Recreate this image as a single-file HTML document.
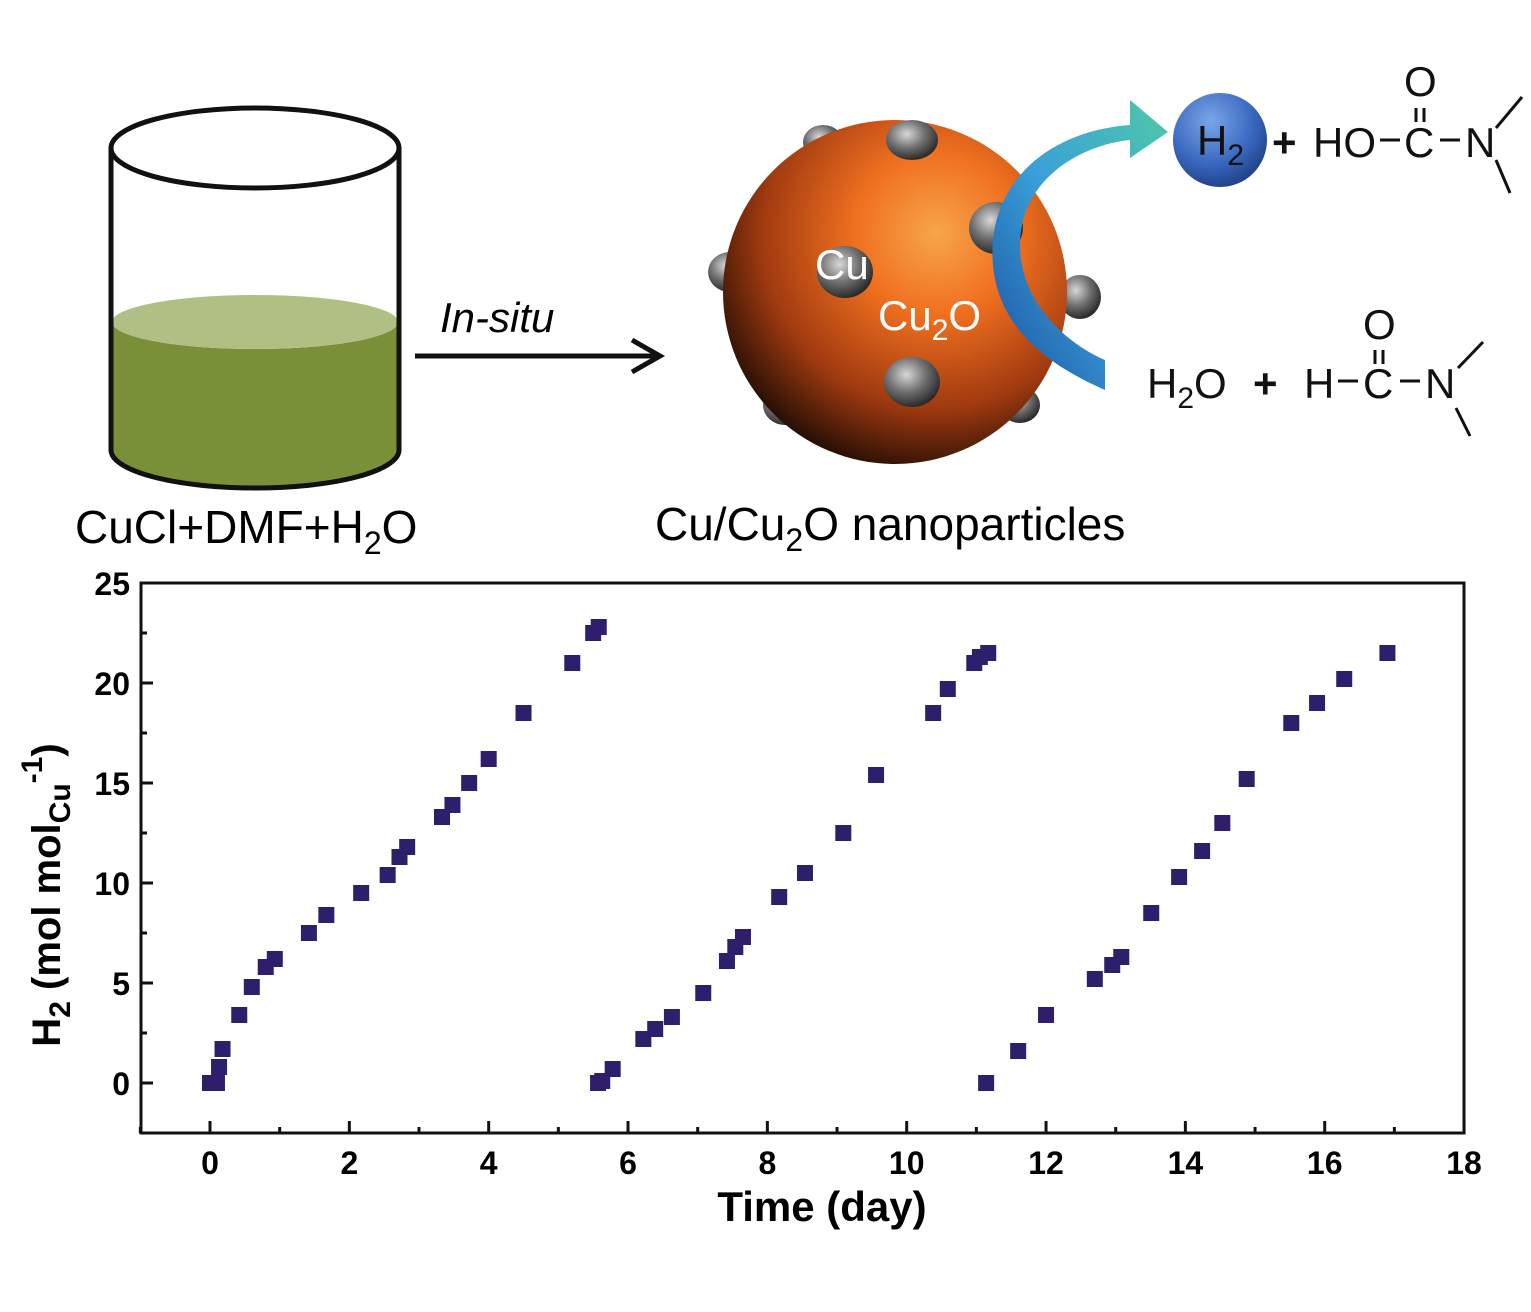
<!DOCTYPE html>
<html><head><meta charset="utf-8"><style>
body{margin:0;background:#fff;}
svg{display:block;font-family:"Liberation Sans",sans-serif;}
</style></head><body>
<svg width="1531" height="1312" viewBox="0 0 1531 1312">
<defs>
<radialGradient id="sph" cx="0.62" cy="0.33" r="0.78">
<stop offset="0" stop-color="#f7a54a"/><stop offset="0.3" stop-color="#f07020"/><stop offset="0.65" stop-color="#a03a10"/><stop offset="0.9" stop-color="#2a1005"/><stop offset="1" stop-color="#100500"/>
</radialGradient>
<radialGradient id="bump" cx="0.4" cy="0.35" r="0.7"><stop offset="0" stop-color="#d8d8d8"/><stop offset="0.5" stop-color="#707070"/><stop offset="1" stop-color="#202020"/></radialGradient>
<radialGradient id="h2b" cx="0.4" cy="0.3" r="0.75"><stop offset="0" stop-color="#7aa6e8"/><stop offset="0.6" stop-color="#3a68c0"/><stop offset="1" stop-color="#1d3d80"/></radialGradient>
<linearGradient id="arr" x1="0" y1="1" x2="1" y2="0"><stop offset="0" stop-color="#1a4fa0"/><stop offset="0.5" stop-color="#3aa0d8"/><stop offset="1" stop-color="#50c8a8"/></linearGradient>
</defs>
<g>
<path d="M112,322 L112,450 A143,38 0 0 0 398,450 L398,322 A143,27 0 0 1 112,322 Z" fill="#7a9038"/>
<ellipse cx="255" cy="322" rx="143" ry="27" fill="#b0c085"/>
<path d="M111,148 L111,450 A144,38 0 0 0 399,450 L399,148" fill="none" stroke="#111" stroke-width="5"/>
<ellipse cx="255" cy="148" rx="144" ry="40" fill="none" stroke="#111" stroke-width="5"/>
</g>
<text x="75" y="543" font-size="46">CuCl+DMF+H<tspan font-size="32" dy="11">2</tspan><tspan dy="-11">O</tspan></text>
<g>
<line x1="415" y1="356" x2="656" y2="356" stroke="#111" stroke-width="5"/>
<path d="M632,340 L660,356 L632,372" fill="none" stroke="#111" stroke-width="5"/>
<text x="440" y="332" font-size="42" font-style="italic">In-situ</text>
</g>
<g>
<ellipse cx="823" cy="142" rx="20" ry="17" fill="url(#bump)"/>
<ellipse cx="730" cy="272" rx="22" ry="20" fill="url(#bump)"/>
<ellipse cx="1080" cy="297" rx="21" ry="22" fill="url(#bump)"/>
<ellipse cx="785" cy="405" rx="22" ry="20" fill="url(#bump)"/>
<ellipse cx="1020" cy="405" rx="20" ry="18" fill="url(#bump)"/>
<circle cx="895" cy="292" r="172" fill="url(#sph)"/>
<ellipse cx="912" cy="140" rx="26" ry="20" fill="url(#bump)"/>
<ellipse cx="996" cy="228" rx="27" ry="26" fill="url(#bump)"/>
<ellipse cx="845" cy="272" rx="28" ry="26" fill="url(#bump)"/>
<ellipse cx="912" cy="382" rx="28" ry="25" fill="url(#bump)"/>
<text x="815" y="279" font-size="42" fill="#fff">Cu</text>
<text x="878" y="330" font-size="42" fill="#fff">Cu<tspan font-size="30" dy="10">2</tspan><tspan dy="-10">O</tspan></text>
</g>
<path d="M1105,390 C1060,370 985,330 993,240 C1000,170 1060,130 1130,125 L1130,100 L1168,132 L1130,158 L1130,140 C1080,145 1020,180 1020,245 C1020,305 1070,345 1105,360 Z" fill="url(#arr)"/>
<circle cx="1220" cy="140" r="47" fill="url(#h2b)"/>
<text x="1197" y="155" font-size="42" fill="#111">H<tspan font-size="30" dy="10">2</tspan></text>
<g font-size="42" fill="#111">
<text x="1272" y="157" font-weight="bold">+</text>
<text x="1313" y="157">HO</text>
<line x1="1380" y1="140" x2="1400" y2="140" stroke="#111" stroke-width="3"/>
<text x="1404" y="157">C</text>
<line x1="1440" y1="140" x2="1460" y2="140" stroke="#111" stroke-width="3"/>
<text x="1465" y="157">N</text>
<text x="1404" y="96">O</text>
<line x1="1416" y1="108" x2="1416" y2="122" stroke="#111" stroke-width="3"/>
<line x1="1424" y1="108" x2="1424" y2="122" stroke="#111" stroke-width="3"/>
<line x1="1496" y1="128" x2="1522" y2="97" stroke="#111" stroke-width="3"/>
<line x1="1496" y1="160" x2="1510" y2="193" stroke="#111" stroke-width="3"/>
</g>
<g font-size="42" fill="#111">
<text x="1147" y="398">H<tspan font-size="30" dy="10">2</tspan><tspan dy="-10">O</tspan></text>
<text x="1253" y="398" font-weight="bold">+</text>
<text x="1304" y="398">H</text>
<line x1="1338" y1="381" x2="1358" y2="381" stroke="#111" stroke-width="3"/>
<text x="1363" y="398">C</text>
<line x1="1400" y1="381" x2="1420" y2="381" stroke="#111" stroke-width="3"/>
<text x="1425" y="398">N</text>
<text x="1363" y="339">O</text>
<line x1="1375" y1="350" x2="1375" y2="364" stroke="#111" stroke-width="3"/>
<line x1="1383" y1="350" x2="1383" y2="364" stroke="#111" stroke-width="3"/>
<line x1="1458" y1="368" x2="1483" y2="342" stroke="#111" stroke-width="3"/>
<line x1="1456" y1="408" x2="1470" y2="436" stroke="#111" stroke-width="3"/>
</g>
<text x="655" y="540" font-size="46">Cu/Cu<tspan font-size="32" dy="11">2</tspan><tspan dy="-11">O nanoparticles</tspan></text>
<rect x="141" y="583" width="1323" height="550" fill="none" stroke="#111" stroke-width="3"/>
<g id="ticks"></g>
<g id="marks"></g>
<text x="822" y="1221" font-size="42" font-weight="bold" text-anchor="middle">Time (day)</text>
<text transform="translate(60,895) rotate(-90)" font-size="40" font-weight="bold" text-anchor="middle">H<tspan font-size="30" dy="10">2</tspan><tspan dy="-10"> (mol mol</tspan><tspan font-size="30" dy="10">Cu</tspan><tspan font-size="30" dy="-28">-1</tspan><tspan dy="18">)</tspan></text>
</svg>
<script>
const xTicks=[0,2,4,6,8,10,12,14,16,18];
const yTicks=[0,5,10,15,20,25];
const s1x=[0,0.1,0.13,0.18,0.42,0.6,0.8,0.93,1.42,1.67,2.17,2.55,2.72,2.83,3.33,3.48,3.72,4.0,4.5,5.2,5.5,5.58];
const s1y=[0,0,0.8,1.7,3.4,4.8,5.8,6.2,7.5,8.4,9.5,10.4,11.3,11.8,13.3,13.9,15,16.2,18.5,21,22.5,22.8];
const s2x=[5.57,5.63,5.78,6.22,6.39,6.63,7.08,7.42,7.54,7.65,8.17,8.54,9.09,9.56,10.38,10.59,10.97,11.05,11.17];
const s2y=[0,0.1,0.7,2.2,2.7,3.3,4.5,6.1,6.8,7.3,9.3,10.5,12.5,15.4,18.5,19.7,21,21.3,21.5];
const s3x=[11.14,11.6,12,12.7,12.95,13.08,13.51,13.91,14.24,14.53,14.88,15.52,15.89,16.28,16.9];
const s3y=[0,1.6,3.4,5.2,5.9,6.3,8.5,10.3,11.6,13,15.2,18,19,20.2,21.5];
const NS='http://www.w3.org/2000/svg';
const X=v=>210+(v)*69.67, Y=v=>1083-v*20;
const tg=document.getElementById('ticks'), mg=document.getElementById('marks');
function mk(t,a,p){const e=document.createElementNS(NS,t);for(const k in a)e.setAttribute(k,a[k]);p.appendChild(e);return e;}
for(let v=-1;v<=18;v++){const major=v%2===0;mk('line',{x1:X(v),x2:X(v),y1:1133,y2:major?1121:1127,stroke:'#111','stroke-width':3},tg);}
xTicks.forEach(v=>{const t=mk('text',{x:X(v),y:1174,'font-size':32,'font-weight':'bold','text-anchor':'middle'},tg);t.textContent=v;

});
for(let v=-2.5;v<=25;v+=2.5){const major=v%5===0;mk('line',{x1:141,x2:major?153:147,y1:Y(v),y2:Y(v),stroke:'#111','stroke-width':3},tg);}
yTicks.forEach(v=>{const t=mk('text',{x:130,y:Y(v)+12,'font-size':32,'font-weight':'bold','text-anchor':'end'},tg);t.textContent=v;

});
[[s1x,s1y],[s2x,s2y],[s3x,s3y]].forEach((s,si)=>{s[0].forEach((xv,i)=>{const r=mk('rect',{x:X(xv)-8,y:Y(s[1][i])-8,width:16,height:16,fill:'#2d1f6b'},mg);

});});
</script>
</body></html>
